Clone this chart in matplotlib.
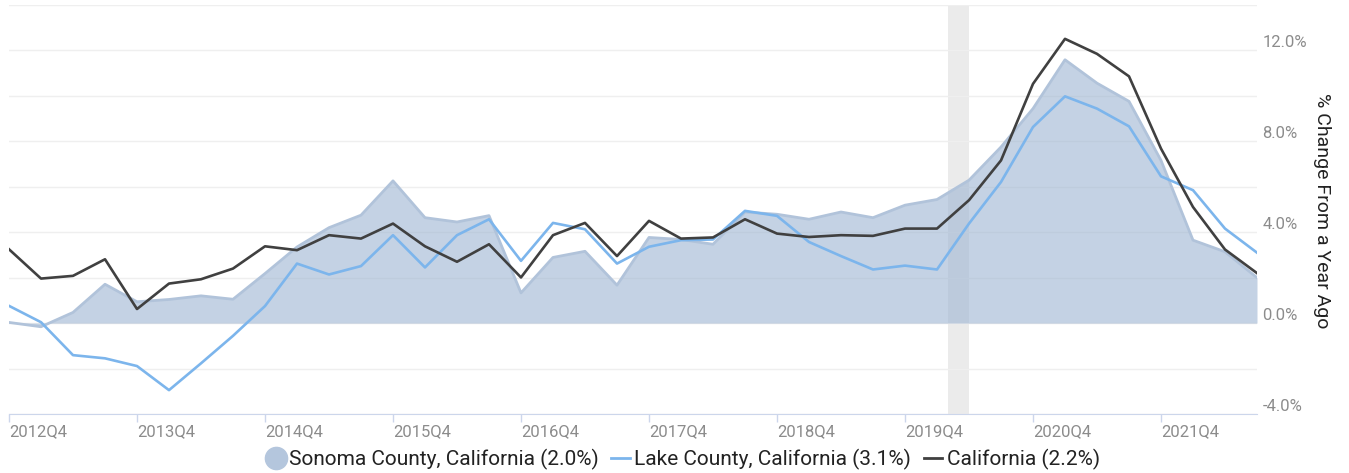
import matplotlib.pyplot as plt
from matplotlib.lines import Line2D

plt.rcParams['font.family'] = ['Roboto', 'DejaVu Sans']

# quarters 2012Q4 .. 2022Q3
quarters = [f"{y}Q{q}" for y in range(2012, 2023) for q in range(1, 5)][3:-1]

sonoma = [0.03, -0.16, 0.47, 1.71, 0.94, 1.04, 1.20, 1.05, 2.18, 3.35,
          4.20, 4.75, 6.26, 4.64, 4.45, 4.73, 1.33, 2.89, 3.16, 1.67,
          3.77, 3.68, 3.47, 4.89, 4.79, 4.57, 4.89, 4.64, 5.19, 5.44,
          6.29, 7.75, 9.44, 11.59, 10.56, 9.76, 7.16, 3.65, 3.14, 2.0]
lake = [0.76, 0.04, -1.41, -1.55, -1.89, -2.95, -1.77, -0.56, 0.75, 2.62,
        2.14, 2.51, 3.87, 2.45, 3.87, 4.57, 2.74, 4.41, 4.13, 2.62,
        3.36, 3.65, 3.68, 4.94, 4.72, 3.57, 2.95, 2.36, 2.53, 2.36,
        4.38, 6.21, 8.63, 9.98, 9.44, 8.66, 6.46, 5.85, 4.16, 3.1]
california = [3.25, 1.96, 2.08, 2.81, 0.62, 1.74, 1.93, 2.40, 3.38, 3.21,
              3.87, 3.72, 4.38, 3.38, 2.70, 3.47, 2.01, 3.87, 4.41, 2.95,
              4.50, 3.72, 3.77, 4.57, 3.94, 3.79, 3.87, 3.84, 4.16, 4.16,
              5.41, 7.16, 10.53, 12.51, 11.85, 10.86, 7.68, 5.11, 3.24, 2.2]

legend_labels = ["Sonoma County, California (2.0%)",
                 "Lake County, California (3.1%)",
                 "California (2.2%)"]

# recession: Feb 2020 - Apr 2020, in quarter units from 2012Q4
recession = (29.33, 30.0)

y_ticks = [-4, -2, 0, 2, 4, 6, 8, 10, 12, 14]
y_tick_labels = ["-4.0%", "", "0.0%", "", "4.0%", "", "8.0%", "", "12.0%", ""]

x = list(range(len(quarters)))

fig = plt.figure(figsize=(13.49, 4.73), dpi=100)
ax = fig.add_axes([9 / 1349, 1 - 414 / 473, 1248 / 1349, 409 / 473])

fill_col = '#9eb5d2'
edge_col = '#b1c3da'
lake_col = '#7cb5ec'
ca_col = '#404040'

ax.axvspan(*recession, color='#ebebeb', lw=0, zorder=0)
ax.fill_between(x, 0, sonoma, color=fill_col, alpha=0.6, lw=0, zorder=1)
ax.plot(x, sonoma, color=edge_col, lw=2, zorder=2)
ax.plot(x, lake, color=lake_col, lw=1.9, zorder=3)
ax.plot(x, california, color=ca_col, lw=1.9, zorder=4)

ax.set_xlim(0, len(x) - 1)
ax.set_ylim(-4, 14)

# y axis on the right
ax.yaxis.tick_right()
ax.set_yticks(y_ticks)
ax.set_yticklabels(y_tick_labels)
ax.tick_params(axis='y', length=0, pad=4, labelsize=12, labelcolor='#8c8c8c')
for lab in ax.get_yticklabels():
    lab.set_va('bottom')
ax.grid(axis='y', color='#efefef', lw=1, zorder=0)
ax.set_axisbelow(True)
ax.yaxis.set_label_position('right')
ax.set_ylabel("% Change From a Year Ago", rotation=-90, fontsize=14,
              color='#222222', va='center', ha='center')
ax.yaxis.set_label_coords((1322 - 9) / 1248, (414 - 211) / 409)

# x axis
q4_idx = [i for i, q in enumerate(quarters) if q.endswith('Q4')]
ax.set_xticks(q4_idx)
ax.set_xticklabels([quarters[i] for i in q4_idx], ha='left')
ax.tick_params(axis='x', length=6, width=1, color='#ccd6eb', pad=1,
               labelsize=12, labelcolor='#8c8c8c')

for side in ['top', 'left', 'right']:
    ax.spines[side].set_visible(False)
ax.spines['bottom'].set_color('#ccd6eb')
ax.spines['bottom'].set_zorder(5)

handles = [
    Line2D([], [], marker='o', ls='none', markersize=16,
           markerfacecolor='#b4c6dd', markeredgecolor='#b4c6dd'),
    Line2D([], [], color=lake_col, lw=2),
    Line2D([], [], color=ca_col, lw=2),
]
fig.legend(handles, legend_labels, loc='center', ncol=3, frameon=False,
           bbox_to_anchor=(683 / 1349, 1 - 459 / 473), fontsize=15,
           handlelength=0.9, handletextpad=0.2, columnspacing=0.6,
           labelcolor='#222222')

fig.savefig('out.png', dpi=100)
